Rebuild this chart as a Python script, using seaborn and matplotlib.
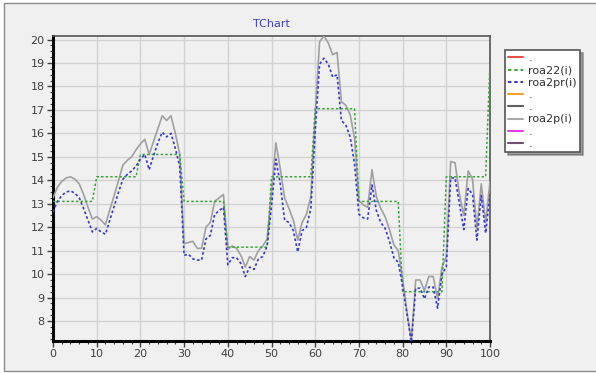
import numpy as np
import pandas as pd
import matplotlib
matplotlib.use("Agg")
import matplotlib.pyplot as plt
from matplotlib.lines import Line2D
from matplotlib.patches import Rectangle
from matplotlib.ticker import MultipleLocator, AutoMinorLocator
import seaborn as sns

# Series values, one per step i = 0..100
steps = list(range(101))

roa2p = [13.25, 13.7, 13.95, 14.1, 14.15, 14.05, 13.85, 13.4, 12.85, 12.35,
         12.45, 12.3, 12.1, 12.75, 13.35, 14.0, 14.65, 14.85, 15.0, 15.3,
         15.55, 15.75, 15.1, 15.65, 16.2, 16.75, 16.55, 16.75, 16.0, 15.1,
         11.3, 11.35, 11.4, 11.1, 11.1, 12.0, 12.2, 13.1, 13.25, 13.4,
         11.05, 11.2, 11.1, 10.8, 10.3, 10.75, 10.6, 11.0, 11.2, 11.5,
         13.5, 15.6, 14.5, 13.25, 12.8, 12.3, 11.45, 12.2, 12.55, 13.3,
         16.8, 19.9, 20.15, 19.85, 19.35, 19.45, 17.35, 17.2, 16.8, 15.8,
         13.15, 12.95, 12.85, 14.45, 13.3, 12.8, 12.45, 11.9, 11.25, 11.0,
         9.8, 8.4, 7.15, 9.75, 9.75, 9.3, 9.9, 9.9, 8.95, 10.3,
         10.75, 14.8, 14.75, 13.4, 12.5, 14.4, 14.05, 11.95, 13.85, 12.2,
         13.95]

roa2pr = [12.65, 13.1, 13.35, 13.5, 13.55, 13.45, 13.25, 12.8, 12.3, 11.8,
          11.95, 11.8, 11.7, 12.3, 12.9, 13.5, 14.05, 14.25, 14.4, 14.6,
          14.9, 15.1, 14.45, 15.05, 15.6, 16.05, 15.85, 16.0, 15.35, 14.6,
          10.8, 10.85, 10.65, 10.6, 10.6, 11.5, 11.65, 12.55, 12.7, 12.85,
          10.4, 10.7, 10.7, 10.45, 9.9, 10.3, 10.2, 10.65, 10.75, 11.2,
          12.9, 14.9, 13.85, 12.3, 12.2, 11.85, 10.95, 11.85, 12.0, 12.8,
          16.1, 18.95, 19.2, 18.95, 18.4, 18.5, 16.55, 16.35, 15.85, 14.7,
          12.55, 12.4, 12.35, 13.8, 12.7, 12.2, 11.95, 11.4, 10.7, 10.5,
          9.5, 8.3, 7.1, 9.4, 9.4, 8.95, 9.45, 9.45, 8.55, 10.0,
          10.3, 14.1, 14.1, 13.0, 11.9, 13.65, 13.4, 11.45, 13.35, 11.75,
          13.4]

roa22 = [13.1] * 10 + [14.15] * 10 + [15.1] * 10 + [13.1] * 10 + [11.15] * 10 \
      + [14.15] * 10 + [17.05] * 10 + [13.1] * 10 + [9.25] * 10 + [14.15] * 10 \
      + [19.0]

legend_labels = [".", "roa22(i)", "roa2pr(i)", ".", ".", "roa2p(i)", ".", "."]
legend_colors = ["#e8504a", "#3aa63a", "#3838d8", "#f0a030", "#606060",
                 "#a8a8a8", "#e040e0", "#705070"]

df = pd.DataFrame({"i": steps, "roa2p": roa2p, "roa2pr": roa2pr, "roa22": roa22})

sns.set_style("white")
plt.rcParams["font.family"] = ["DejaVu Sans"]

panel = "#f0f0f0"
fig = plt.figure(figsize=(5.96, 3.73), dpi=100, facecolor="white")
# outer chart panel, its right edge runs past the image
fig.patches.append(Rectangle((3.5 / 596, 2 / 373), 1.05, 368 / 373,
                             transform=fig.transFigure, facecolor=panel,
                             edgecolor="#8a8a8a", linewidth=1.0, zorder=-10))

ax = fig.add_axes([53 / 596, 1 - 341 / 373, 437 / 596, 305 / 373])
ax.set_facecolor(panel)

dot = (0, (1.6, 1.4))
sns.lineplot(data=df, x="i", y="roa2p", ax=ax, color="#a0a0a0", linewidth=1.2,
             estimator=None, zorder=3)
sns.lineplot(data=df, x="i", y="roa22", ax=ax, color="#3aa63a", linewidth=1.1,
             linestyle=dot, estimator=None, zorder=4)
sns.lineplot(data=df, x="i", y="roa2pr", ax=ax, color="#3838d8", linewidth=1.2,
             linestyle=dot, estimator=None, zorder=5)

ax.set_xlim(0, 100)
ax.set_ylim(7.15, 20.15)
ax.xaxis.set_major_locator(MultipleLocator(10))
ax.xaxis.set_minor_locator(AutoMinorLocator(5))
ax.yaxis.set_minor_locator(AutoMinorLocator(4))
ax.set_yticks(range(8, 21))
ax.set_xlabel("")
ax.set_ylabel("")

ax.grid(True, which="major", color="#d2d2d2", linewidth=1.0, zorder=0)
ax.set_axisbelow(True)

ax.tick_params(axis="both", which="major", direction="out", length=4, width=1,
               color="#404040", labelsize=8, labelcolor="#404040", pad=2,
               left=True, bottom=True)
ax.tick_params(axis="both", which="minor", direction="out", length=2, width=0.8,
               color="#404040", left=True, bottom=True)

for side in ("left", "bottom"):
    ax.spines[side].set_color("black")
    ax.spines[side].set_linewidth(2.2)
for side in ("top", "right"):
    ax.spines[side].set_visible(True)
    ax.spines[side].set_color("#555555")
    ax.spines[side].set_linewidth(1.2)

fig.text(271 / 596, 1 - 24 / 373, "TChart", ha="center", va="center",
         fontsize=8, color="#4040c8")

styles = ["-", dot, dot, "-", "-", "-", "-", "-"]
handles = [Line2D([], [], color=c, linestyle=s, linewidth=1.5)
           for c, s in zip(legend_colors, styles)]
leg = fig.legend(handles, legend_labels, loc="upper left",
                 bbox_to_anchor=(505 / 596, 1 - 50 / 373),
                 fontsize=8, frameon=True, fancybox=False, framealpha=1,
                 facecolor="white", edgecolor="#555555", shadow=True,
                 handlelength=1.3, handletextpad=0.5, labelspacing=0.2,
                 borderpad=0.3, borderaxespad=0)
leg.get_frame().set_linewidth(1.2)
for t in leg.get_texts():
    t.set_color("#303030")

fig.savefig("out.png", dpi=100, facecolor=fig.get_facecolor())
